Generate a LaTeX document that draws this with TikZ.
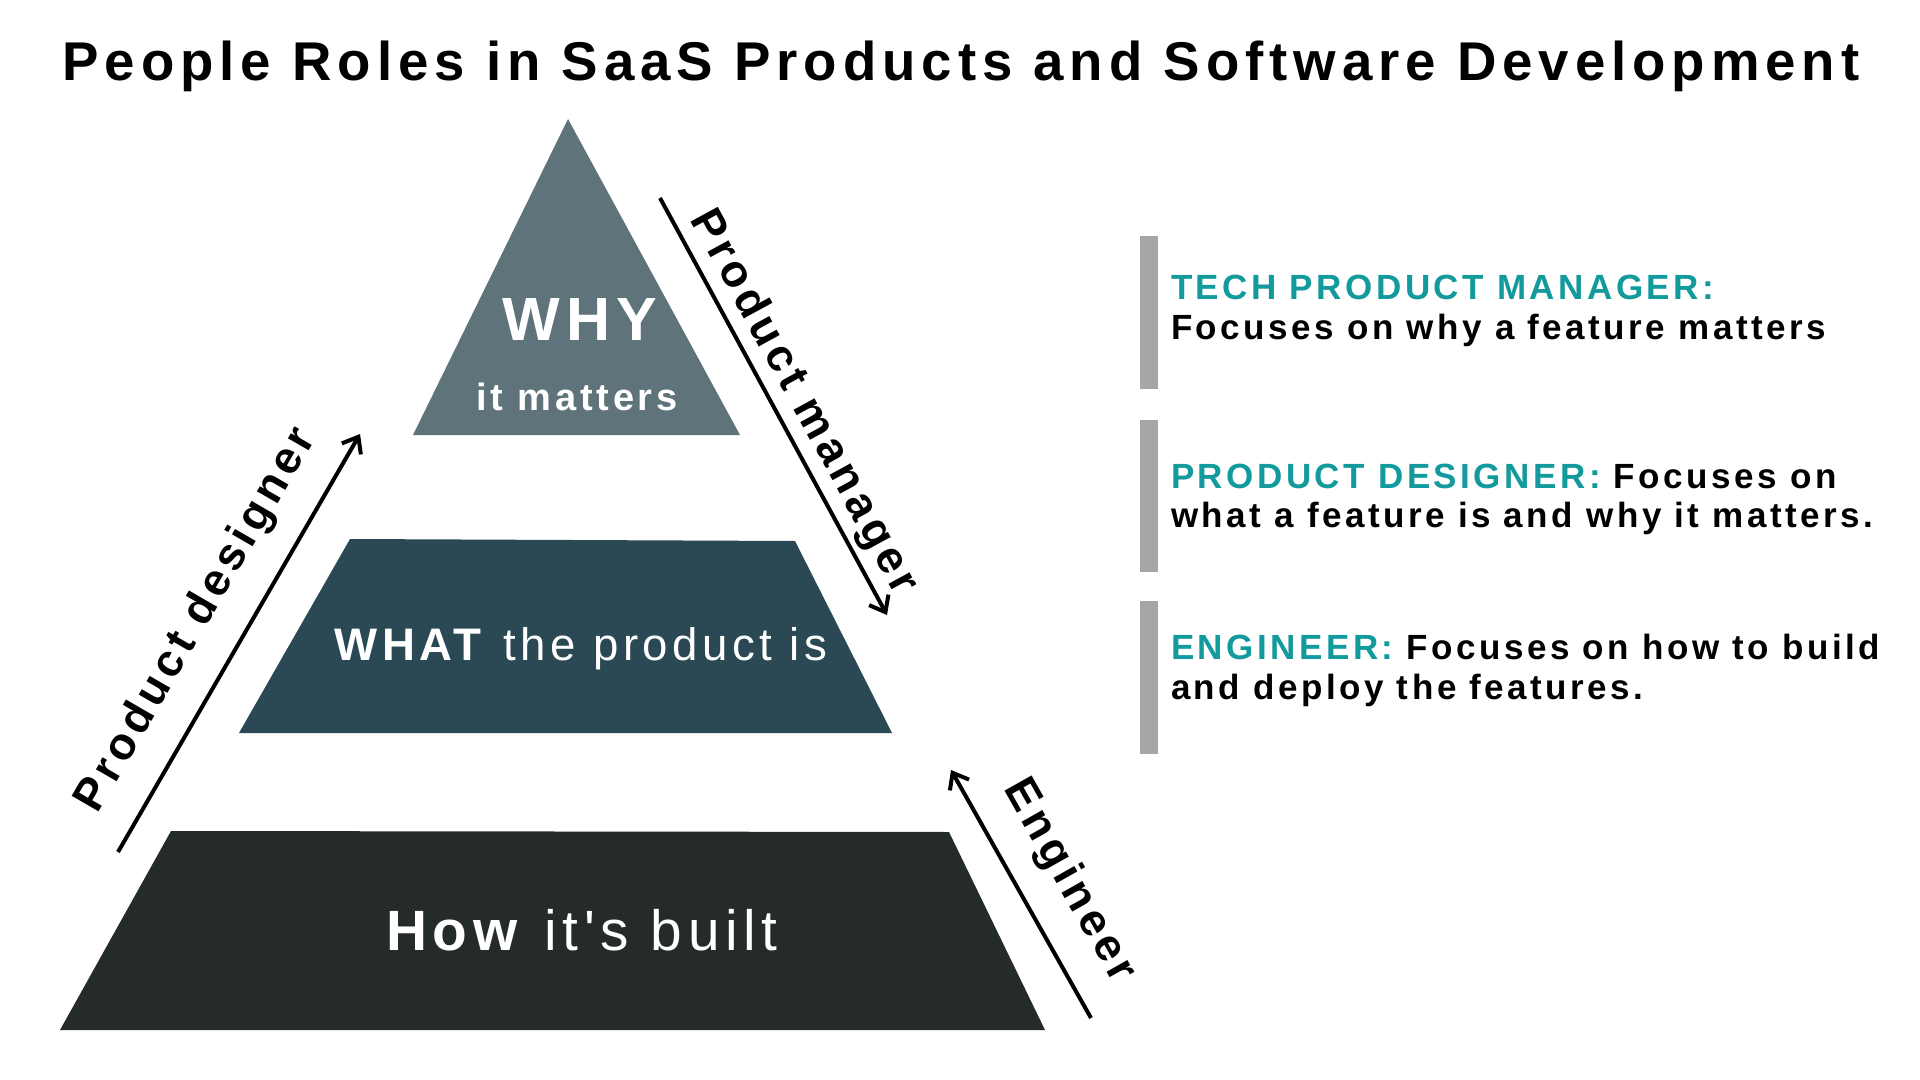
\documentclass[tikz,border=0pt]{standalone}
\usepackage{fontspec}
\setmainfont{Liberation Sans}[LetterSpace=10]
\newfontfamily\plainsans{Liberation Sans}[LetterSpace=10]
\usetikzlibrary{arrows.meta}
\definecolor{whyc}{HTML}{5F737B}
\definecolor{whatc}{HTML}{2A4954}
\definecolor{howc}{HTML}{252B28}
\definecolor{tealc}{HTML}{129A9C}
\definecolor{barc}{HTML}{A6A6A6}
\tikzset{
  txt/.style={inner sep=0pt, outer sep=0pt},
  roleline/.style={txt, anchor=base west, font=\fontsize{17.5}{20}\selectfont\bfseries},
  sidelabel/.style={txt, anchor=base, font=\fontsize{22.6}{26}\selectfont\bfseries},
  arr/.style={line width=2pt, -{Straight Barb[length=7pt,width=11pt]}},
  bar/.style={fill=barc, draw=none},
}
\begin{document}
\begin{tikzpicture}[x=0.5pt,y=-0.5pt]
\useasboundingbox (0,0) rectangle (1920,1080);
\fill[white] (0,0) rectangle (1920,1080);

% title
\node[txt, anchor=base, font=\fontsize{27.3}{32}\selectfont\bfseries\addfontfeatures{LetterSpace=10.9}] (title) at (961,80.5)
  {People Roles in SaaS Products and Software Development};

% pyramid
\fill[whyc] (568,119) -- (740,435) -- (413,435) -- cycle;
\fill[whatc] (350,539) -- (795,541) -- (892,733) -- (239,733) -- cycle;
\fill[howc] (171,831) -- (949,832) -- (1045,1030) -- (60,1030) -- cycle;

\node[txt, anchor=base, text=white, font=\fontsize{30.5}{34}\selectfont\bfseries] (why) at (580,341) {WHY};
\node[txt, anchor=base, text=white, font=\fontsize{19}{22}\selectfont\bfseries] (whysub) at (577,410) {it matters};
\node[txt, anchor=base, text=white, font=\fontsize{22.8}{26}\selectfont] (what) at (581,660) {\textbf{WHAT} the product is};
\node[txt, anchor=base, text=white, font=\plainsans\fontsize{28.4}{32}\selectfont] (how) at (582,950) {\textbf{How} it's built};

% arrows
\coordinate (pmS) at (660,198);
\coordinate (pmE) at (887,615);
\coordinate (pdS) at (118,852);
\coordinate (pdE) at (360,434);
\coordinate (enS) at (1091,1018);
\coordinate (enE) at (951,770);
\draw[arr] (pmS) -- (pmE);
\draw[arr] (pdS) -- (pdE);
\draw[arr] (enS) -- (enE);

\node[sidelabel, rotate=-61.4] (pmlab) at (793,408) {Product manager};
\node[sidelabel, rotate=59.9] (pdlab) at (207,626) {Product designer};
\node[sidelabel, rotate=-60.6] (enlab) at (1059,887) {Engineer};

% right panel
\fill[bar] (1140,236) rectangle (1158,389);
\fill[bar] (1140,420) rectangle (1158,572);
\fill[bar] (1140,601) rectangle (1158,754);

\node[roleline] (r1a) at (1171,300) {\textcolor{tealc}{TECH PRODUCT MANAGER:}};
\node[roleline] (r1b) at (1171,340) {Focuses on why a feature matters};
\node[roleline] (r2a) at (1171,488) {\textcolor{tealc}{PRODUCT DESIGNER:} Focuses on};
\node[roleline] (r2b) at (1171,527) {what a feature is and why it matters.};
\node[roleline] (r3a) at (1171,659) {\textcolor{tealc}{ENGINEER:} Focuses on how to build};
\node[roleline] (r3b) at (1171,699) {and deploy the features.};
\end{tikzpicture}
\end{document}
